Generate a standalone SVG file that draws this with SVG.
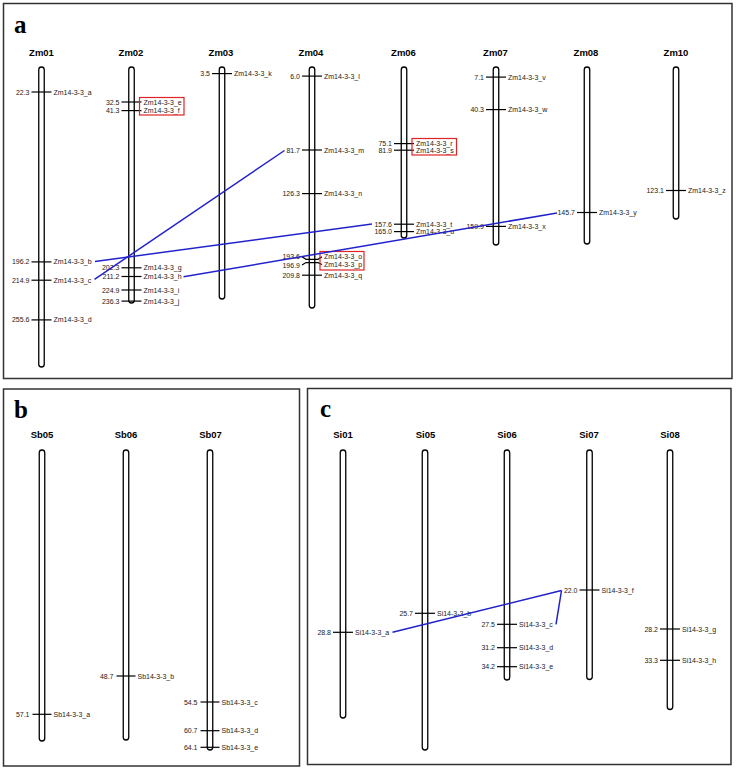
<svg xmlns="http://www.w3.org/2000/svg" width="736" height="769" viewBox="0 0 736 769">
<style>
.bg{fill:#fff}
.panel{fill:none;stroke:#333;stroke-width:1.5}
.letter{font-family:"Liberation Serif",serif;font-weight:bold;font-size:25px;fill:#000}
.title{font-family:"Liberation Sans",Arial,sans-serif;font-weight:bold;font-size:9.5px;text-anchor:middle;fill:#000}
.chr{fill:#fff;stroke:#000;stroke-width:1.3}
.tick{stroke:#000;stroke-width:1.2;fill:none}
.num{font-family:"Liberation Sans",Arial,sans-serif;font-size:7px;text-anchor:end;fill:#222}
.lab{font-family:"Liberation Sans",Arial,sans-serif;font-size:7px;fill:#222}
.hl{fill:none;stroke:#e02424;stroke-width:1.2}
.link{fill:none;stroke:#2222cc;stroke-width:1.5}
</style>
<rect class="bg" x="0" y="0" width="736" height="769"/>
<g id="panels">
<rect class="panel" x="3.5" y="3.5" width="728.5" height="375"/>
<rect class="panel" x="3.5" y="389" width="296" height="377"/>
<rect class="panel" x="307.5" y="388.5" width="423.5" height="376"/>
<text class="letter" x="14" y="33">a</text>
<text class="letter" x="14" y="418">b</text>
<text class="letter" x="320" y="417">c</text>
</g>

<g id="Zm01">
<text class="title" x="41.5" y="56">Zm01</text>
<rect class="chr" x="38.75" y="67" width="5.5" height="300" rx="2.75"/>
<line class="tick" x1="31.5" y1="92" x2="51.5" y2="92"/><text class="num" x="29.5" y="94.5">22.3</text><text class="lab" x="53.5" y="94.5">Zm14-3-3_a</text>
<line class="tick" x1="31.5" y1="261.9" x2="51.5" y2="261.9"/><text class="num" x="29.5" y="264.4">196.2</text><text class="lab" x="53.5" y="264.4">Zm14-3-3_b</text>
<line class="tick" x1="31.5" y1="280.2" x2="51.5" y2="280.2"/><text class="num" x="29.5" y="282.7">214.9</text><text class="lab" x="53.5" y="282.7">Zm14-3-3_c</text>
<line class="tick" x1="31.5" y1="319.9" x2="51.5" y2="319.9"/><text class="num" x="29.5" y="322.4">255.6</text><text class="lab" x="53.5" y="322.4">Zm14-3-3_d</text>
</g>

<g id="Zm02">
<text class="title" x="131" y="56">Zm02</text>
<rect class="chr" x="128.75" y="67" width="5.5" height="236" rx="2.75"/>
<line class="tick" x1="121.5" y1="102" x2="141.5" y2="102"/><text class="num" x="119.5" y="104.5">32.5</text><text class="lab" x="143.5" y="104.5">Zm14-3-3_e</text>
<line class="tick" x1="121.5" y1="110.6" x2="141.5" y2="110.6"/><text class="num" x="119.5" y="113.1">41.3</text><text class="lab" x="143.5" y="113.1">Zm14-3-3_f</text>
<rect class="hl" x="139.5" y="97.5" width="44.5" height="17.5"/>
<line class="tick" x1="121.5" y1="267.8" x2="141.5" y2="267.8"/><text class="num" x="119.5" y="270.3">202.3</text><text class="lab" x="143.5" y="270.3">Zm14-3-3_g</text>
<line class="tick" x1="121.5" y1="276.5" x2="141.5" y2="276.5"/><text class="num" x="119.5" y="279">211.2</text><text class="lab" x="143.5" y="279">Zm14-3-3_h</text>
<line class="tick" x1="121.5" y1="290" x2="141.5" y2="290"/><text class="num" x="119.5" y="292.5">224.9</text><text class="lab" x="143.5" y="292.5">Zm14-3-3_i</text>
<line class="tick" x1="121.5" y1="301.1" x2="141.5" y2="301.1"/><text class="num" x="119.5" y="303.6">236.3</text><text class="lab" x="143.5" y="303.6">Zm14-3-3_j</text>
</g>

<g id="Zm03">
<text class="title" x="221" y="56">Zm03</text>
<rect class="chr" x="219.25" y="67" width="5.5" height="232" rx="2.75"/>
<line class="tick" x1="212" y1="73.6" x2="232" y2="73.6"/><text class="num" x="210" y="76.1">3.5</text><text class="lab" x="234" y="76.1">Zm14-3-3_k</text>
</g>

<g id="Zm04">
<text class="title" x="311" y="56">Zm04</text>
<rect class="chr" x="309.25" y="67" width="5.5" height="241" rx="2.75"/>
<line class="tick" x1="302" y1="76.1" x2="322" y2="76.1"/><text class="num" x="300" y="78.6">6.0</text><text class="lab" x="324" y="78.6">Zm14-3-3_l</text>
<line class="tick" x1="302" y1="150" x2="322" y2="150"/><text class="num" x="300" y="152.5">81.7</text><text class="lab" x="324" y="152.5">Zm14-3-3_m</text>
<line class="tick" x1="302" y1="193.6" x2="322" y2="193.6"/><text class="num" x="300" y="196.1">126.3</text><text class="lab" x="324" y="196.1">Zm14-3-3_n</text>
<polyline class="tick" points="302,256.7 306,259.3 318,259.3 322,256.7"/><text class="num" x="300" y="259.2">193.6</text><text class="lab" x="324" y="259.2">Zm14-3-3_o</text>
<polyline class="tick" points="302,265 306,262.6 318,262.6 322,264.5"/><text class="num" x="300" y="267.5">196.9</text><text class="lab" x="324" y="267">Zm14-3-3_p</text>
<rect class="hl" x="320" y="251.5" width="44" height="18.5"/>
<line class="tick" x1="302" y1="275.2" x2="322" y2="275.2"/><text class="num" x="300" y="277.7">209.8</text><text class="lab" x="324" y="277.7">Zm14-3-3_q</text>
</g>

<g id="Zm06">
<text class="title" x="403.5" y="56">Zm06</text>
<rect class="chr" x="401.25" y="67" width="5.5" height="171" rx="2.75"/>
<line class="tick" x1="394" y1="143.6" x2="414" y2="143.6"/><text class="num" x="392" y="146.1">75.1</text><text class="lab" x="416" y="146.1">Zm14-3-3_r</text>
<line class="tick" x1="394" y1="150.2" x2="414" y2="150.2"/><text class="num" x="392" y="152.7">81.9</text><text class="lab" x="416" y="152.7">Zm14-3-3_s</text>
<rect class="hl" x="412" y="138.5" width="44.5" height="16.5"/>
<line class="tick" x1="394" y1="224.2" x2="414" y2="224.2"/><text class="num" x="392" y="226.7">157.6</text><text class="lab" x="416" y="226.7">Zm14-3-3_t</text>
<line class="tick" x1="394" y1="231.6" x2="414" y2="231.6"/><text class="num" x="392" y="234.1">165.0</text><text class="lab" x="416" y="234.1">Zm14-3-3_u</text>
</g>

<g id="Zm07">
<text class="title" x="495.5" y="56">Zm07</text>
<rect class="chr" x="493.25" y="67" width="5.5" height="178" rx="2.75"/>
<line class="tick" x1="486" y1="77.1" x2="506" y2="77.1"/><text class="num" x="484" y="79.6">7.1</text><text class="lab" x="508" y="79.6">Zm14-3-3_v</text>
<line class="tick" x1="486" y1="109.6" x2="506" y2="109.6"/><text class="num" x="484" y="112.1">40.3</text><text class="lab" x="508" y="112.1">Zm14-3-3_w</text>
<line class="tick" x1="486" y1="226.4" x2="506" y2="226.4"/><text class="num" x="484" y="228.9">159.9</text><text class="lab" x="508" y="228.9">Zm14-3-3_x</text>
</g>

<g id="Zm08">
<text class="title" x="586" y="56">Zm08</text>
<rect class="chr" x="584.25" y="67" width="5.5" height="177" rx="2.75"/>
<line class="tick" x1="577" y1="212.5" x2="597" y2="212.5"/><text class="num" x="575" y="215">145.7</text><text class="lab" x="599" y="215">Zm14-3-3_y</text>
</g>

<g id="Zm10">
<text class="title" x="676" y="56">Zm10</text>
<rect class="chr" x="673.25" y="67" width="5.5" height="152" rx="2.75"/>
<line class="tick" x1="666" y1="190.5" x2="686" y2="190.5"/><text class="num" x="664" y="193">123.1</text><text class="lab" x="688" y="193">Zm14-3-3_z</text>
</g>

<g id="Sb05">
<text class="title" x="42" y="438">Sb05</text>
<rect class="chr" x="39.25" y="450" width="5.5" height="291" rx="2.75"/>
<line class="tick" x1="32.5" y1="714.3" x2="51.5" y2="714.3"/><text class="num" x="29.5" y="716.8">57.1</text><text class="lab" x="53.5" y="716.8">Sb14-3-3_a</text>
</g>

<g id="Sb06">
<text class="title" x="126" y="438">Sb06</text>
<rect class="chr" x="123.25" y="450" width="5.5" height="290" rx="2.75"/>
<line class="tick" x1="116.5" y1="676" x2="135.5" y2="676"/><text class="num" x="113.5" y="678.5">48.7</text><text class="lab" x="137.5" y="678.5">Sb14-3-3_b</text>
</g>

<g id="Sb07">
<text class="title" x="210.5" y="438">Sb07</text>
<rect class="chr" x="207.25" y="450" width="5.5" height="300" rx="2.75"/>
<line class="tick" x1="200.5" y1="702" x2="219.5" y2="702"/><text class="num" x="197.5" y="704.5">54.5</text><text class="lab" x="221.5" y="704.5">Sb14-3-3_c</text>
<line class="tick" x1="200.5" y1="730.7" x2="219.5" y2="730.7"/><text class="num" x="197.5" y="733.2">60.7</text><text class="lab" x="221.5" y="733.2">Sb14-3-3_d</text>
<line class="tick" x1="200.5" y1="747.3" x2="219.5" y2="747.3"/><text class="num" x="197.5" y="749.8">64.1</text><text class="lab" x="221.5" y="749.8">Sb14-3-3_e</text>
</g>

<g id="Si01">
<text class="title" x="343" y="438">Si01</text>
<rect class="chr" x="340.25" y="450" width="5.5" height="268" rx="2.75"/>
<line class="tick" x1="333" y1="632.3" x2="353" y2="632.3"/><text class="num" x="331" y="634.8">28.8</text><text class="lab" x="355" y="634.8">Si14-3-3_a</text>
</g>

<g id="Si05">
<text class="title" x="425.5" y="438">Si05</text>
<rect class="chr" x="422.25" y="450" width="5.5" height="300" rx="2.75"/>
<line class="tick" x1="415" y1="613.3" x2="435" y2="613.3"/><text class="num" x="413" y="615.8">25.7</text><text class="lab" x="437" y="615.8">Si14-3-3_b</text>
</g>

<g id="Si06">
<text class="title" x="507" y="438">Si06</text>
<rect class="chr" x="504.25" y="450" width="5.5" height="230" rx="2.75"/>
<line class="tick" x1="497" y1="624.3" x2="517" y2="624.3"/><text class="num" x="495" y="626.8">27.5</text><text class="lab" x="519" y="626.8">Si14-3-3_c</text>
<line class="tick" x1="497" y1="647.7" x2="517" y2="647.7"/><text class="num" x="495" y="650.2">31.2</text><text class="lab" x="519" y="650.2">Si14-3-3_d</text>
<line class="tick" x1="497" y1="666.7" x2="517" y2="666.7"/><text class="num" x="495" y="669.2">34.2</text><text class="lab" x="519" y="669.2">Si14-3-3_e</text>
</g>

<g id="Si07">
<text class="title" x="589" y="438">Si07</text>
<rect class="chr" x="586.75" y="450" width="5.5" height="229.5" rx="2.75"/>
<line class="tick" x1="579.5" y1="590" x2="599.5" y2="590"/><text class="num" x="577.5" y="592.5">22.0</text><text class="lab" x="601.5" y="592.5">Si14-3-3_f</text>
</g>

<g id="Si08">
<text class="title" x="670" y="438">Si08</text>
<rect class="chr" x="667.25" y="450" width="5.5" height="259.5" rx="2.75"/>
<line class="tick" x1="660" y1="629" x2="680" y2="629"/><text class="num" x="658" y="631.5">28.2</text><text class="lab" x="682" y="631.5">Si14-3-3_g</text>
<line class="tick" x1="660" y1="660.3" x2="680" y2="660.3"/><text class="num" x="658" y="662.8">33.3</text><text class="lab" x="682" y="662.8">Si14-3-3_h</text>
</g>

<g id="connectors">
<line class="link" x1="94.5" y1="279.3" x2="284.5" y2="150.5"/>
<line class="link" x1="95" y1="261.5" x2="372" y2="224"/>
<line class="link" x1="183.5" y1="276.8" x2="557" y2="213"/>
<line class="link" x1="392.5" y1="632.3" x2="561.5" y2="590.5"/>
<line class="link" x1="556" y1="624.3" x2="561.5" y2="590.5"/>
</g>
</svg>
